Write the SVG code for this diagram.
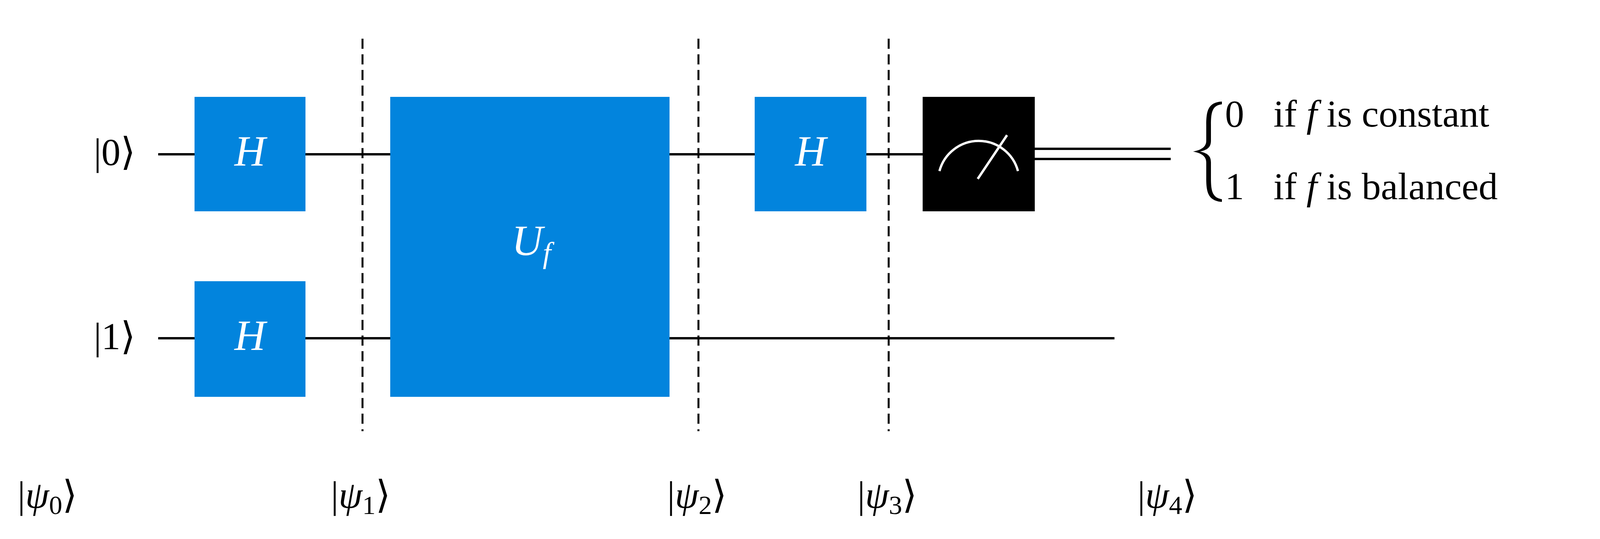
<svg xmlns="http://www.w3.org/2000/svg" width="4180" height="1380" viewBox="0 0 4180 1380">
<style>
.t{font-family:"Liberation Serif","DejaVu Serif",serif;font-size:98px;fill:#000}
.g{font-family:"Liberation Serif","DejaVu Serif",serif;font-size:110px;font-style:italic;fill:#fff}
.w{stroke:#000;stroke-width:6;fill:none}
.d{stroke:#000;stroke-width:5;stroke-dasharray:26,14;fill:none}
.gate{fill:#0284dd}
</style>
<rect width="4180" height="1380" fill="#fff"/>
<g id="wires">
<line class="w" x1="405" y1="395" x2="2362" y2="395"/>
<line class="w" x1="405" y1="866" x2="2853" y2="866"/>
<line class="w" x1="2649" y1="381" x2="2997" y2="381"/>
<line class="w" x1="2649" y1="407" x2="2997" y2="407"/>
<line class="d" x1="928" y1="99" x2="928" y2="1104"/>
<line class="d" x1="1788" y1="99" x2="1788" y2="1104"/>
<line class="d" x1="2275" y1="99" x2="2275" y2="1104"/>
</g>
<g id="labels">
<text class="t" x="240" y="422">|0⟩</text>
<text class="t" x="240" y="894">|1⟩</text>
<text class="t" x="45" y="1300">|<tspan font-style="italic">ψ</tspan><tspan style="font-size:68px" dy="16">0</tspan><tspan dy="-16">⟩</tspan></text>
<text class="t" x="847" y="1300">|<tspan font-style="italic">ψ</tspan><tspan style="font-size:68px" dy="16">1</tspan><tspan dy="-16">⟩</tspan></text>
<text class="t" x="1708" y="1300">|<tspan font-style="italic">ψ</tspan><tspan style="font-size:68px" dy="16">2</tspan><tspan dy="-16">⟩</tspan></text>
<text class="t" x="2195" y="1300">|<tspan font-style="italic">ψ</tspan><tspan style="font-size:68px" dy="16">3</tspan><tspan dy="-16">⟩</tspan></text>
<text class="t" x="2912" y="1300">|<tspan font-style="italic">ψ</tspan><tspan style="font-size:68px" dy="16">4</tspan><tspan dy="-16">⟩</tspan></text>
</g>
<g id="H1"><rect class="gate" x="498" y="248" width="284" height="293"/><text class="g" x="640" y="424" text-anchor="middle">H</text></g>
<g id="H2"><rect class="gate" x="498" y="720" width="284" height="296"/><text class="g" x="640" y="896" text-anchor="middle">H</text></g>
<g id="Uf"><rect class="gate" x="999" y="248" width="715" height="768"/><text class="g" x="1310" y="653">U<tspan style="font-size:76px" dy="20">f</tspan></text></g>
<g id="H3"><rect class="gate" x="1932" y="248" width="286" height="293"/><text class="g" x="2075" y="424" text-anchor="middle">H</text></g>
<g id="measure"><rect x="2362" y="248" width="287" height="293" fill="#000"/>
<path d="M2405 438 A104 104 0 0 1 2606 438" stroke="#fff" stroke-width="6" fill="none"/>
<line x1="2503" y1="458" x2="2578" y2="346" stroke="#fff" stroke-width="6"/></g>
<g id="result">
<path d="M3128 260 C3092 262 3088 285 3088 320 L3088 360 C3088 376 3076 384 3054 388 C3076 392 3088 400 3088 416 L3088 456 C3088 491 3092 514 3128 517 L3128 510 C3104 506 3100 490 3100 456 L3100 416 C3100 398 3090 392 3072 388 C3090 384 3100 378 3100 360 L3100 320 C3100 286 3104 270 3128 267 Z" fill="#000"/>
<text class="t" x="3136" y="324">0</text>
<text class="t" x="3260" y="324">if <tspan font-style="italic">f</tspan> is constant</text>
<text class="t" x="3136" y="510">1</text>
<text class="t" x="3260" y="510">if <tspan font-style="italic">f</tspan> is balanced</text>
</g>
</svg>
